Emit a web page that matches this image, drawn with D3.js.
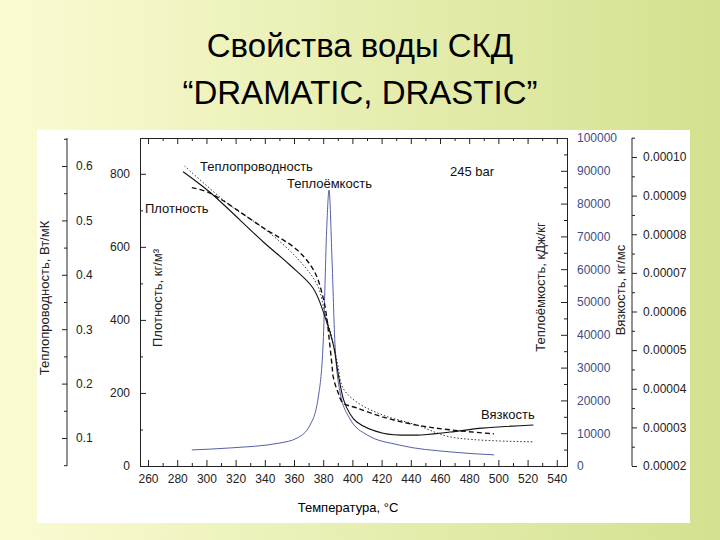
<!DOCTYPE html>
<html><head><meta charset="utf-8">
<script src="https://cdn.jsdelivr.net/npm/d3@7"></script>
<style>
body{margin:0;}
svg{display:block;font-family:"Liberation Sans",Arial,sans-serif;}
</style></head>
<body><svg width="720" height="540"></svg>
<script>
// data
const viscT = [284,302,339,357,373,381,387,390,394,398,403,421,444,467,489,524];
const viscV = [9.62,9.10,7.80,7.21,6.61,5.89,5.13,4.44,3.71,3.37,3.14,2.85,2.80,2.88,2.98,3.06]; // x1e-5 kg/ms
const densT = [290,302,339,362,374,380,382.5,384,386,387,390,393.5,403,421,444,467,497];
const densV = [762,748,652,592,532,460,405,351,277,241,203,173,159,134,112,99,88];
const condT = [285,316,339,362,376,381,386,390,393.5,403,421,444,467,524];
const condV = [0.600,0.528,0.486,0.431,0.381,0.332,0.284,0.234,0.192,0.166,0.142,0.124,0.102,0.093];
const cpT = [290,316,350,362,371,376.5,380,382.5,384,386,388,391.5,398,410,432,467,497];
const cpV = [4900,5500,7000,8500,12500,20700,37800,73500,84100,63400,37800,22600,14600,9500,6400,4300,3400];

const svg = d3.select("svg");
const defs = svg.append("defs");
const grad = defs.append("linearGradient").attr("id","bg").attr("x1","0").attr("x2","1");
grad.append("stop").attr("offset","0").attr("stop-color","#fbfbd3");
grad.append("stop").attr("offset","1").attr("stop-color","#d3e18f");
svg.append("rect").attr("width",720).attr("height",540).attr("fill","url(#bg)");

svg.append("text").attr("x",360).attr("y",57).attr("text-anchor","middle")
  .attr("font-size",33).text("Свойства воды СКД");
svg.append("text").attr("x",360).attr("y",104).attr("text-anchor","middle")
  .attr("font-size",33).text("“DRAMATIC, DRASTIC”");

svg.append("rect").attr("x",37).attr("y",130).attr("width",653).attr("height",393).attr("fill","#fff");

const pL = 140, pR = 567, pT = 138, pB = 466;
const x = d3.scaleLinear().domain([254.5, 547]).range([pL, pR]);
const yDens = d3.scaleLinear().domain([0, 898]).range([pB, pT]);
const yCp = d3.scaleLinear().domain([0, 100000]).range([pB, pT]);
const yCond = d3.scaleLinear().domain([0.1, 0.6]).range([438, 166]);
const yVisc = d3.scaleLinear().domain([2, 10]).range([466, 157]);

const fs = 12;
function styleAxis(g, col) {
  g.selectAll("path,line").attr("stroke", col || "#222");
  g.selectAll("text").attr("font-size", fs).attr("fill", col || "#222").attr("font-family", "Liberation Sans, Arial");
}

// frame
svg.append("g").attr("transform",`translate(0,${pB})`)
  .call(d3.axisBottom(x).tickValues(d3.range(260,541,10)).tickSize(-6).tickPadding(8)
    .tickFormat(d => d % 20 === 0 ? d : ""))
  .call(g => styleAxis(g))
  .call(g => g.selectAll(".tick line").attr("y2", d => d % 20 === 0 ? -6 : -3));
svg.append("g").attr("transform",`translate(0,${pT})`)
  .call(d3.axisTop(x).tickValues(d3.range(260,541,10)).tickSize(-6).tickFormat(""))
  .call(g => styleAxis(g))
  .call(g => g.selectAll(".tick line").attr("y2", d => d % 20 === 0 ? 6 : 3));
svg.append("g").attr("transform",`translate(${pL},0)`)
  .call(d3.axisLeft(yDens).tickValues(d3.range(0,900,100)).tickSize(-6).tickPadding(10)
    .tickFormat(d => d % 200 === 0 ? d : ""))
  .call(g => styleAxis(g))
  .call(g => g.selectAll(".tick line").attr("x2", d => d % 200 === 0 ? 6 : 3));
svg.append("g").attr("transform",`translate(${pR},0)`)
  .call(d3.axisRight(yCp).tickValues(d3.range(0,100001,5000)).tickSize(-6).tickPadding(10)
    .tickFormat(d => d % 10000 === 0 ? d : ""))
  .call(g => styleAxis(g))
  .call(g => g.selectAll(".tick line").attr("x2", d => d % 10000 === 0 ? -6 : -3))
  .call(g => g.selectAll("text").attr("fill","#3d4d8a"));

// thermal conductivity axis
const condAx = svg.append("g").attr("transform","translate(67,0)")
  .call(d3.axisLeft(yCond).tickValues(d3.range(0.05,0.66,0.05)).tickSize(5).tickFormat(""))
  .call(g => styleAxis(g));
condAx.select(".domain").attr("d", `M0,${pT}V${pB}`);
condAx.selectAll(".tick").filter(d => Math.round(d*100) % 10 === 0).append("text")
  .attr("x", 9).attr("dy","0.32em").attr("text-anchor","start")
  .attr("font-size",fs).attr("fill","#222").text(d => d3.format(".1f")(d));
condAx.selectAll(".tick line").attr("x2", d => Math.round(d*100) % 10 === 0 ? -5 : -3);

// viscosity axis
const viscAx = svg.append("g").attr("transform","translate(632,0)")
  .call(d3.axisRight(yVisc).tickValues(d3.range(2,10.6,0.5)).tickSize(5).tickPadding(6)
    .tickFormat(d => Number.isInteger(d) ? (d*1e-5).toFixed(5) : ""))
  .call(g => styleAxis(g));
viscAx.select(".domain").attr("d", `M0,${pT}V${pB}`);
viscAx.selectAll(".tick line").attr("x2", d => Number.isInteger(d) ? 5 : 3);

// axis titles
function vlabel(tx, ty, txt, col) {
  svg.append("text").attr("transform",`translate(${tx},${ty}) rotate(-90)`)
    .attr("text-anchor","middle").attr("font-size",13).attr("fill",col||"#222").text(txt);
}
vlabel(49, 298, "Теплопроводность, Вт/мК");
vlabel(162, 298, "Плотность, кг/м³");
vlabel(545, 287, "Теплоёмкость, кДж/кг");
vlabel(625, 290, "Вязкость, кг/мс");
svg.append("text").attr("x",348).attr("y",512).attr("text-anchor","middle").attr("font-size",13).text("Температура, °C");

// curves
function drawLine(T, V, ys, col, w, dash, curve) {
  svg.append("path").datum(T.map((t,i)=>[t,V[i]]))
    .attr("fill","none").attr("stroke",col).attr("stroke-width",w)
    .attr("stroke-dasharray",dash||null)
    .attr("d", d3.line().curve(curve).x(d=>x(d[0])).y(d=>ys(d[1])));
}
const smooth = d3.curveCatmullRom.alpha(0.5);
drawLine(cpT, cpV, yCp, "#5560a8", 1, null, d3.curveMonotoneX);
drawLine(condT, condV, yCond, "#333", 1, "1.5,2", smooth);
drawLine(densT, densV, yDens, "#111", 1.4, "5,3", smooth);
drawLine(viscT, viscV, yVisc, "#111", 1.1, null, smooth);

// annotations
const ann = [["Теплопроводность",200,171],["Теплоёмкость",287,188],["Плотность",145,213],["245 bar",450,176],["Вязкость",481,419]];
ann.forEach(a => svg.append("text").attr("x",a[1]).attr("y",a[2]).attr("font-size",13).attr("fill","#111").text(a[0]));
</script>
</body></html>
